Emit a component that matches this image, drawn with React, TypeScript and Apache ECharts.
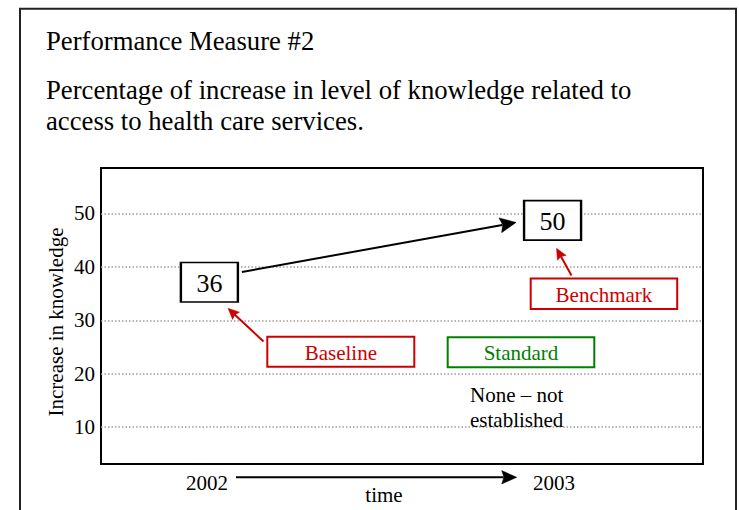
import React, { useEffect, useRef } from "react";
import * as echarts from "echarts";

const FONT = '"Liberation Serif", "Times New Roman", Times, serif';

// Data
const years = [2002, 2003];
const values = [36, 50];
const yTicks = [10, 20, 30, 40, 50];
const titleText = "Performance Measure #2";
const subText = "Percentage of increase in level of knowledge related to\naccess to health care services.";
const yName = "Increase in knowledge";
const xName = "time";
const baselineLabel = "Baseline";
const benchmarkLabel = "Benchmark";
const standardLabel = "Standard";
const standardNote = "None \u2013 not\nestablished";

const RED = "#cc0000";
const GREEN = "#008000";
const BOX_W = 57;
const BOX_H = 39.5;
const boxOffsets = [
  [2.5, -6],
  [-1.5, 7],
];

function arrow(
  tail: number[],
  tip: number[],
  color: string,
  width: number,
  headLen: number,
  headHalf: number
) {
  const dx = tip[0] - tail[0];
  const dy = tip[1] - tail[1];
  const len = Math.sqrt(dx * dx + dy * dy);
  const ux = dx / len;
  const uy = dy / len;
  const bx = tip[0] - ux * headLen;
  const by = tip[1] - uy * headLen;
  const px = -uy;
  const py = ux;
  return [
    {
      type: "line",
      silent: true,
      shape: { x1: tail[0], y1: tail[1], x2: bx + ux * 2, y2: by + uy * 2 },
      style: { stroke: color, lineWidth: width },
      z: 10,
    },
    {
      type: "polygon",
      silent: true,
      shape: {
        points: [
          [tip[0], tip[1]],
          [bx + px * headHalf, by + py * headHalf],
          [bx + ux * headLen * 0.15, by + uy * headLen * 0.15],
          [bx - px * headHalf, by - py * headHalf],
        ],
      },
      style: { fill: color, stroke: color, lineWidth: 0.5 },
      z: 10,
    },
  ];
}

function labelBox(x: number, y: number, w: number, h: number, text: string, color: string) {
  return [
    {
      type: "rect",
      silent: true,
      shape: { x, y, width: w, height: h },
      style: { fill: "#fff", stroke: color, lineWidth: 2 },
      z: 10,
    },
    {
      type: "text",
      silent: true,
      x: x + w / 2,
      y: y + h / 2 + 1,
      style: {
        text,
        fill: color,
        font: `21px ${FONT}`,
        align: "center",
        verticalAlign: "middle",
      },
      z: 11,
    },
  ];
}

export default function App() {
  const ref = useRef<HTMLDivElement>(null);

  useEffect(() => {
    if (!ref.current) return;
    const chart = echarts.init(ref.current, undefined, { renderer: "svg" });

    const option: any = {
      animation: false,
      backgroundColor: "#fff",
      title: {
        left: 46,
        top: 28,
        padding: 0,
        itemGap: 19.7,
        text: titleText,
        textStyle: {
          fontSize: 26.7,
          fontWeight: "normal",
          color: "#000",
          fontFamily: FONT,
          lineHeight: 26,
        },
        subtext: subText,
        subtextStyle: {
          fontSize: 26.7,
          color: "#000",
          fontFamily: FONT,
          lineHeight: 31,
        },
      },
      grid: {
        left: 101,
        top: 168,
        right: 36,
        bottom: 46,
        show: true,
        borderColor: "#000",
        borderWidth: 2,
        backgroundColor: "transparent",
        outerBoundsMode: "none",
        containLabel: false,
      },
      xAxis: {
        type: "value",
        min: 2001.695,
        max: 2003.429,
        axisLine: { show: false },
        axisTick: { show: false },
        splitLine: { show: false },
        axisLabel: {
          customValues: years,
          formatter: (v: number) => String(v),
          fontSize: 21,
          color: "#000",
          fontFamily: FONT,
          margin: 8.5,
        },
        name: xName,
        nameLocation: "middle",
        nameGap: 20,
        nameMoveOverlap: false,
        nameTextStyle: {
          fontSize: 21,
          color: "#000",
          fontFamily: FONT,
          padding: [0, 36, 0, 0],
        },
      },
      yAxis: {
        type: "value",
        min: 3.1,
        max: 58.5,
        axisLine: { show: false },
        axisTick: { show: false },
        splitLine: { show: false },
        axisLabel: {
          customValues: yTicks,
          formatter: (v: number) => String(v),
          fontSize: 21,
          color: "#000",
          fontFamily: FONT,
          margin: 6,
        },
        name: yName,
        nameLocation: "middle",
        nameRotate: 90,
        nameGap: 34.5,
        nameMoveOverlap: false,
        nameTextStyle: {
          fontSize: 21,
          color: "#000",
          fontFamily: FONT,
          padding: [0, 12, 0, 0],
        },
      },
      series: [
        {
          type: "line",
          data: [],
          z: 1,
          silent: true,
          markLine: {
            silent: true,
            symbol: "none",
            label: { show: false },
            lineStyle: { type: [1.5, 2], color: "#a0a0a0", width: 1.5 },
            data: yTicks.map((v) => ({ yAxis: v })),
          },
        },
        {
          type: "scatter",
          z: 5,
          silent: true,
          symbol: "rect",
          symbolSize: [BOX_W, BOX_H],
          itemStyle: { color: "#fff", borderColor: "#000", borderWidth: 2, opacity: 1 },
          label: {
            show: true,
            position: "inside",
            formatter: (p: any) => String(p.value[1]),
            fontSize: 26,
            color: "#000",
            fontFamily: FONT,
            offset: [0, 1],
          },
          data: values.map((v, i) => ({
            value: [years[i], v],
            symbolOffset: boxOffsets[i],
          })),
        },
      ],
    };

    chart.setOption(option);

    const p0 = chart.convertToPixel({ gridIndex: 0 }, [years[0], values[0]]) as number[];
    const p1 = chart.convertToPixel({ gridIndex: 0 }, [years[1], values[1]]) as number[];
    const c0 = [p0[0] + boxOffsets[0][0], p0[1] + boxOffsets[0][1]];
    const c1 = [p1[0] + boxOffsets[1][0], p1[1] + boxOffsets[1][1]];

    const connTail = [c0[0] + BOX_W / 2 + 4, c0[1] - BOX_H / 2 + 9.5];
    const connTip = [c1[0] - BOX_W / 2 - 8, c1[1] + 2];

    const elements: any[] = [
      {
        type: "rect",
        silent: true,
        shape: { x: 20, y: 8.7, width: 716, height: 520 },
        style: { fill: "none", stroke: "#222", lineWidth: 2 },
        z: 0,
      },
      ...arrow(connTail, connTip, "#000", 2, 16, 7.5),
      ...arrow([236, 477.3], [516.7, 477.3], "#000", 2, 15, 6.7),
      ...labelBox(267.3, 336.7, 147, 30, baselineLabel, RED),
      ...arrow([263.5, 341.5], [228, 308.3], RED, 2, 11, 5),
      ...labelBox(530.7, 278.5, 146.5, 30.5, benchmarkLabel, RED),
      ...arrow([571.5, 275.5], [556.5, 248.3], RED, 2, 11, 5),
      ...labelBox(447.7, 337.3, 146.6, 30, standardLabel, GREEN),
      {
        type: "text",
        silent: true,
        x: 470,
        y: 382,
        style: {
          text: standardNote,
          fill: "#000",
          font: `21px ${FONT}`,
          lineHeight: 25,
          align: "left",
          verticalAlign: "top",
        },
        z: 11,
      },
    ];

    chart.setOption({ graphic: { elements } });

    return () => {
      chart.dispose();
    };
  }, []);

  return (
    <div
      ref={ref}
      style={{ position: "fixed", left: 0, top: 0, width: 739, height: 510 }}
    />
  );
}
